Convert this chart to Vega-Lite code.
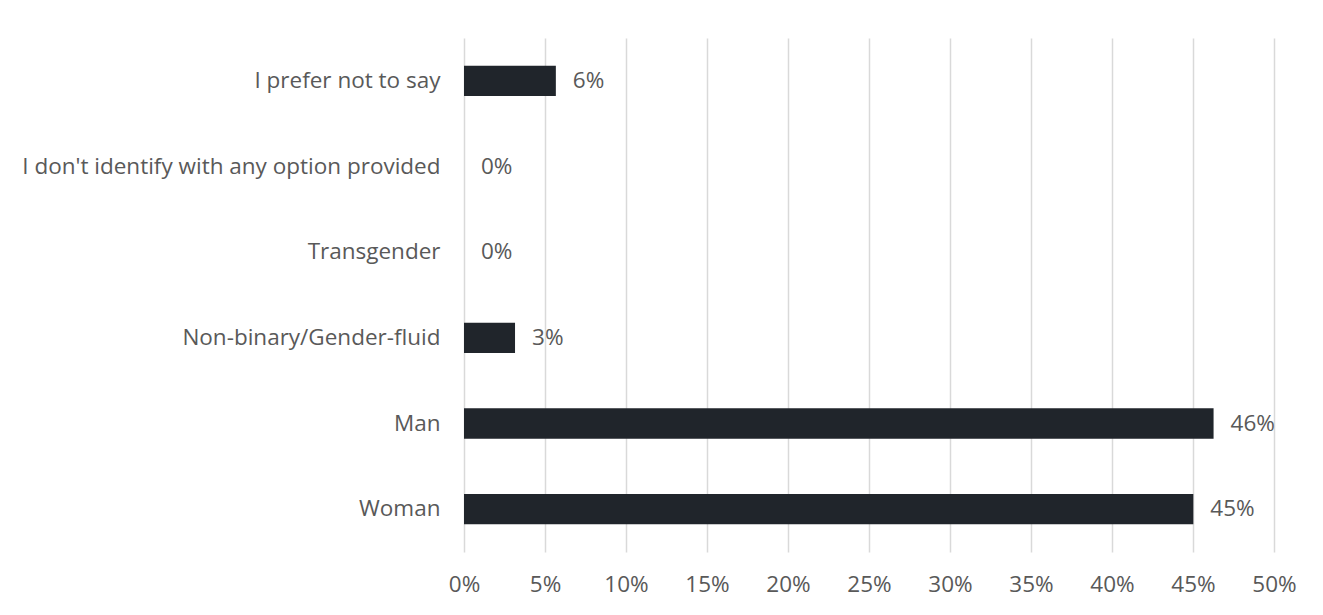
{
  "$schema": "https://vega.github.io/schema/vega-lite/v6.json",
  "autosize": "none",
  "padding": {"left": 464, "top": 38, "right": 49, "bottom": 63},
  "width": 810,
  "height": 514,
  "background": "white",
  "config": {
    "view": {"stroke": null},
    "font": "Open Sans"
  },
  "data": {
    "values": [
      {"category": "I prefer not to say", "value": 0.0567},
      {"category": "I don't identify with any option provided", "value": 0},
      {"category": "Transgender", "value": 0},
      {"category": "Non-binary/Gender-fluid", "value": 0.0315},
      {"category": "Man", "value": 0.4627},
      {"category": "Woman", "value": 0.4502}
    ]
  },
  "encoding": {
    "y": {
      "field": "category",
      "type": "nominal",
      "sort": null,
      "scale": {"paddingInner": 0.646, "paddingOuter": 0.323},
      "axis": {
        "title": null,
        "domain": false,
        "ticks": false,
        "labelPadding": 24,
        "labelFontSize": 22.5,
        "labelColor": "#595959",
        "labelFont": "Open Sans",
        "labelLimit": 500
      }
    },
    "x": {
      "field": "value",
      "type": "quantitative",
      "scale": {"domain": [0, 0.5], "nice": false},
      "axis": {
        "title": null,
        "format": ".0%",
        "values": [0, 0.05, 0.1, 0.15, 0.2, 0.25, 0.3, 0.35, 0.4, 0.45, 0.5],
        "domain": false,
        "ticks": false,
        "grid": true,
        "gridColor": "#d9d9d9",
        "gridWidth": 1.5,
        "labelFlush": false,
        "labelPadding": 21,
        "labelFontSize": 22.5,
        "labelColor": "#595959",
        "labelFont": "Open Sans"
      }
    }
  },
  "layer": [
    {"mark": {"type": "bar", "color": "#20252b"}},
    {
      "mark": {"type": "text", "align": "left", "dx": 17, "fontSize": 22.5, "color": "#595959", "font": "Open Sans"},
      "encoding": {"text": {"field": "value", "type": "quantitative", "format": ".0%"}}
    }
  ]
}
